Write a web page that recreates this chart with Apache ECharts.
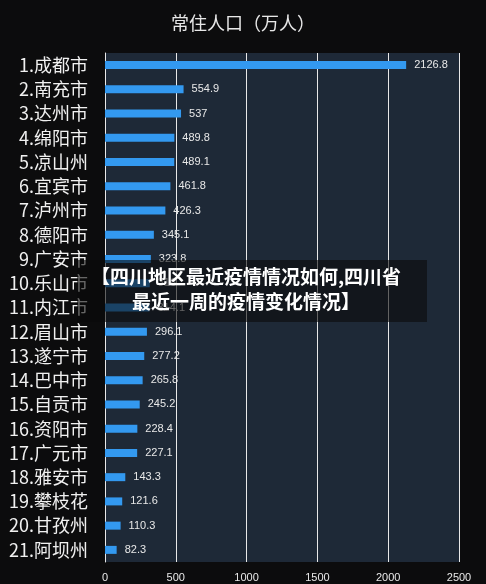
<!DOCTYPE html>
<html><head><meta charset="utf-8">
<script src="https://cdn.jsdelivr.net/npm/echarts@6/dist/echarts.min.js"></script>
<style>html,body{margin:0;padding:0;background:#0c0c0d}#c{width:486px;height:584px}</style>
</head><body><div id="c"></div>
<script>
const categories = ['1.成都市','2.南充市','3.达州市','4.绵阳市','5.凉山州','6.宜宾市','7.泸州市','8.德阳市','9.广安市','10.乐山市','11.内江市','12.眉山市','13.遂宁市','14.巴中市','15.自贡市','16.资阳市','17.广元市','18.雅安市','19.攀枝花','20.甘孜州','21.阿坝州'];
const values = [2126.8,554.9,537,489.8,489.1,461.8,426.3,345.1,323.8,316,314.1,296.1,277.2,265.8,245.2,228.4,227.1,143.3,121.6,110.3,82.3];
const xTicks = [0,500,1000,1500,2000,2500];
const chart = echarts.init(document.getElementById('c'));
chart.setOption({
  backgroundColor:'#0c0c0d',
  animation:false,
  title:{text:'常住人口（万人）',left:'center',top:9,textStyle:{color:'#e8e8e8',fontSize:18,fontWeight:'normal',fontFamily:'Noto Sans CJK SC'}},
  grid:{left:105,right:27,top:53,bottom:22,show:true,backgroundColor:'#1e2937',borderWidth:0},
  xAxis:{type:'value',min:xTicks[0],max:xTicks[xTicks.length-1],interval:500,
    axisLabel:{color:'#e8e8e8',fontSize:11,margin:10,formatter:v=>String(v)},
    splitLine:{lineStyle:{color:'#e8e8e8',width:1}},axisLine:{show:false},axisTick:{show:false}},
  yAxis:{type:'category',data:categories,inverse:true,
    axisLabel:{color:'#f0f0f0',fontSize:18,fontFamily:'Noto Sans CJK SC',margin:17},
    axisLine:{lineStyle:{color:'#e8e8e8'}},axisTick:{show:false}},
  series:[{type:'bar',data:values,barWidth:8,itemStyle:{color:'#3399f0'},
    label:{show:true,position:'right',color:'#e8e8e8',fontSize:11,distance:8}}],
  graphic:[
    {type:'rect',shape:{x:77,y:260,width:350,height:62},style:{fill:'rgba(10,10,10,0.6)'},z:100},
    {type:'text',x:246,y:277,style:{text:'【四川地区最近疫情情况如何,四川省',fill:'#fff',fontSize:19,fontWeight:'bold',fontFamily:'Noto Sans CJK SC',align:'center',verticalAlign:'middle'},z:101},
    {type:'text',x:246,y:302,style:{text:'最近一周的疫情变化情况】',fill:'#fff',fontSize:19,fontWeight:'bold',fontFamily:'Noto Sans CJK SC',align:'center',verticalAlign:'middle'},z:101}
  ]
});
</script></body></html>
